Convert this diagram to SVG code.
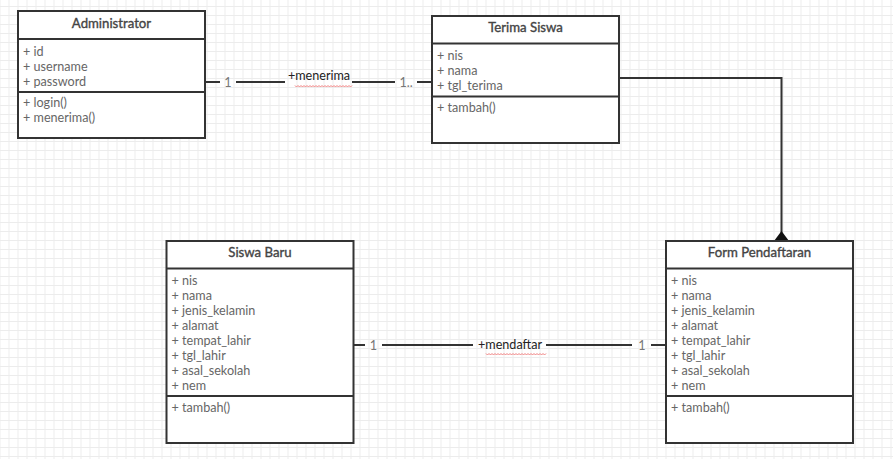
<svg xmlns="http://www.w3.org/2000/svg" width="893" height="459" viewBox="0 0 893 459">
<defs>
<pattern id="grid" width="9" height="9" patternUnits="userSpaceOnUse" x="8.5" y="6">
<path d="M0 0.5H9M0.5 0V9" stroke="#ececec" stroke-width="1" fill="none"/>
</pattern>
<style>
.box{fill:#fff;stroke:#333;stroke-width:2}
.div{stroke:#333;stroke-width:2}
.title{font-family:Lato,"Liberation Sans",sans-serif;font-size:13.2px;fill:#444;stroke:#444;stroke-width:0.35;text-anchor:middle}
.attr{font-family:Lato,"Liberation Sans",sans-serif;font-size:12.6px;fill:#666}
.mult{font-family:Lato,"Liberation Sans",sans-serif;font-size:12.6px;fill:#777;text-anchor:middle}
.lbl{font-family:Lato,"Liberation Sans",sans-serif;font-size:12.6px;fill:#222;text-anchor:middle}
.line{stroke:#333;stroke-width:2;fill:none}
.squig{stroke:#f08080;stroke-width:1;fill:none}
</style>
</defs>
<rect width="893" height="459" fill="#fff"/>
<rect width="893" height="459" fill="url(#grid)"/>

<g id="connectors">
<path class="line" d="M205 82H220M236 82H285M352 82H395M417 82H432"/>
<path class="line" d="M619 78H781.5V233"/>
<polygon points="781.5,231 774,241 789,241" fill="#111"/>
<path class="line" d="M353 345H365M382 345H473M546 345H632M651 345H666"/>
<text class="mult" x="228" y="87">1</text>
<text class="lbl" x="319" y="79.5">+menerima</text>
<path class="squig" d="M295 85.5l1.5 1.5 1.5-1.5 1.5 1.5 1.5-1.5 1.5 1.5 1.5-1.5 1.5 1.5 1.5-1.5 1.5 1.5 1.5-1.5 1.5 1.5 1.5-1.5 1.5 1.5 1.5-1.5 1.5 1.5 1.5-1.5 1.5 1.5 1.5-1.5 1.5 1.5 1.5-1.5 1.5 1.5 1.5-1.5 1.5 1.5 1.5-1.5 1.5 1.5 1.5-1.5 1.5 1.5 1.5-1.5 1.5 1.5 1.5-1.5 1.5 1.5 1.5-1.5 1.5 1.5 1.5-1.5 1.5 1.5 1.5-1.5 1.5 1.5 1.5-1.5"/>
<text class="mult" x="406" y="87">1..</text>
<text class="mult" x="373.5" y="350">1</text>
<text class="lbl" x="510" y="349">+mendaftar</text>
<path class="squig" d="M486 353.5l1.5 1.5 1.5-1.5 1.5 1.5 1.5-1.5 1.5 1.5 1.5-1.5 1.5 1.5 1.5-1.5 1.5 1.5 1.5-1.5 1.5 1.5 1.5-1.5 1.5 1.5 1.5-1.5 1.5 1.5 1.5-1.5 1.5 1.5 1.5-1.5 1.5 1.5 1.5-1.5 1.5 1.5 1.5-1.5 1.5 1.5 1.5-1.5 1.5 1.5 1.5-1.5 1.5 1.5 1.5-1.5 1.5 1.5 1.5-1.5 1.5 1.5 1.5-1.5 1.5 1.5 1.5-1.5 1.5 1.5 1.5-1.5 1.5 1.5 1.5-1.5 1.5 1.5 1.5-1.5"/>
<text class="mult" x="642" y="350">1</text>
</g>

<g id="administrator">
<rect class="box" x="18" y="11" width="187" height="127"/>
<line class="div" x1="18" y1="39" x2="205" y2="39"/>
<line class="div" x1="18" y1="92" x2="205" y2="92"/>
<text class="title" x="111.5" y="27.5">Administrator</text>
<text class="attr" x="23" y="55.5">+ id</text>
<text class="attr" x="23" y="70.5">+ username</text>
<text class="attr" x="23" y="85.5">+ password</text>
<text class="attr" x="23" y="107">+ login()</text>
<text class="attr" x="23" y="122">+ menerima()</text>
</g>

<g id="terima-siswa">
<rect class="box" x="432" y="16" width="187" height="127"/>
<line class="div" x1="432" y1="43.5" x2="619" y2="43.5"/>
<line class="div" x1="432" y1="96.5" x2="619" y2="96.5"/>
<text class="title" x="525.5" y="31.5">Terima Siswa</text>
<text class="attr" x="437" y="59.5">+ nis</text>
<text class="attr" x="437" y="74.5">+ nama</text>
<text class="attr" x="437" y="89.5">+ tgl_terima</text>
<text class="attr" x="437" y="112">+ tambah()</text>
</g>

<g id="siswa-baru">
<rect class="box" x="166.5" y="241" width="187" height="202"/>
<line class="div" x1="166.5" y1="268.5" x2="353.5" y2="268.5"/>
<line class="div" x1="166.5" y1="396" x2="353.5" y2="396"/>
<text class="title" x="260" y="256.5">Siswa Baru</text>
<text class="attr" x="171.5" y="284.5">+ nis</text>
<text class="attr" x="171.5" y="299.5">+ nama</text>
<text class="attr" x="171.5" y="314.5">+ jenis_kelamin</text>
<text class="attr" x="171.5" y="329.5">+ alamat</text>
<text class="attr" x="171.5" y="344.5">+ tempat_lahir</text>
<text class="attr" x="171.5" y="359.5">+ tgl_lahir</text>
<text class="attr" x="171.5" y="374.5">+ asal_sekolah</text>
<text class="attr" x="171.5" y="389.5">+ nem</text>
<text class="attr" x="171.5" y="412">+ tambah()</text>
</g>

<g id="form-pendaftaran">
<rect class="box" x="666" y="241" width="187" height="202"/>
<line class="div" x1="666" y1="268.5" x2="853" y2="268.5"/>
<line class="div" x1="666" y1="396" x2="853" y2="396"/>
<text class="title" x="759.5" y="256.5">Form Pendaftaran</text>
<text class="attr" x="671" y="284.5">+ nis</text>
<text class="attr" x="671" y="299.5">+ nama</text>
<text class="attr" x="671" y="314.5">+ jenis_kelamin</text>
<text class="attr" x="671" y="329.5">+ alamat</text>
<text class="attr" x="671" y="344.5">+ tempat_lahir</text>
<text class="attr" x="671" y="359.5">+ tgl_lahir</text>
<text class="attr" x="671" y="374.5">+ asal_sekolah</text>
<text class="attr" x="671" y="389.5">+ nem</text>
<text class="attr" x="671" y="412">+ tambah()</text>
</g>
</svg>
